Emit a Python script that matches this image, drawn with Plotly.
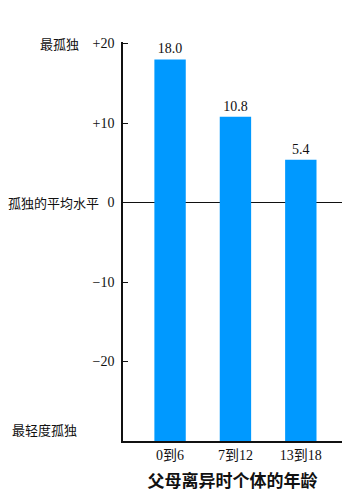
import plotly.graph_objects as go

categories = ["0到6", "7到12", "13到18"]
values = [18.0, 10.8, 5.4]
tick_vals = [20, 10, 0, -10, -20]
tick_text = ["+20", "+10", "0", "\u221210", "\u221220"]
axis_min = -30

serif = "Liberation Serif, Noto Sans CJK SC, serif"
cjk = "Noto Sans CJK SC, sans-serif"

fig = go.Figure()
fig.add_trace(go.Bar(
    x=list(range(len(categories))),
    y=[v - axis_min for v in values],
    base=axis_min,
    width=0.48,
    marker=dict(color="#0099ff", line=dict(width=0)),
    text=[f"{v:.1f}" for v in values],
    textposition="outside",
    textfont=dict(family=serif, size=14, color="#111"),
    cliponaxis=False,
))

fig.update_layout(
    width=354, height=501,
    margin=dict(l=123, r=12, t=42, b=60),
    paper_bgcolor="white", plot_bgcolor="white",
    showlegend=False,
    xaxis=dict(
        range=[-0.72, 2.63],
        tickvals=list(range(len(categories))),
        ticktext=categories,
        showline=True, linecolor="#111", linewidth=1.5,
        showgrid=False, zeroline=False, ticks="",
        tickfont=dict(family=serif, size=14, color="#111"),
        title=dict(text="父母离异时个体的年龄",
                   font=dict(family=cjk, size=17, color="#111", weight="bold"),
                   standoff=14),
    ),
    yaxis=dict(
        range=[axis_min, 20.2],
        tickvals=tick_vals, ticktext=tick_text,
        showline=True, linecolor="#111", linewidth=1.5,
        ticks="inside", ticklen=5, tickcolor="#111",
        ticklabelstandoff=4,
        showgrid=False,
        zeroline=True, zerolinecolor="#111", zerolinewidth=1,
        tickfont=dict(family=serif, size=14, color="#111"),
    ),
)

side_labels = [("最孤独", 20, 81), ("孤独的平均水平", 0, 101), ("最轻度孤独", -28.5, 79)]
for txt, yv, xr in side_labels:
    fig.add_annotation(
        text=txt, x=(xr - 123) / 219, xref="paper", y=yv, yref="y",
        xanchor="right", yanchor="middle", showarrow=False,
        font=dict(family=cjk, size=13, color="#111"),
    )

fig.write_html("out.html")
